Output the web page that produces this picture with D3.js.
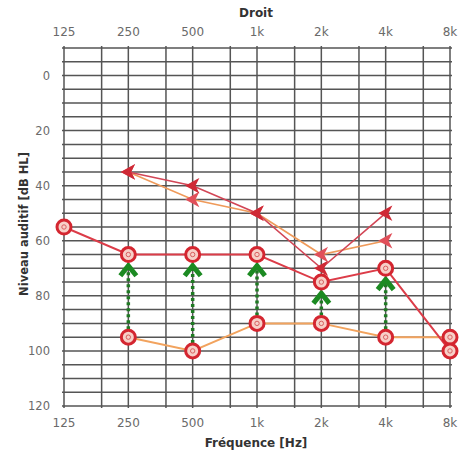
<!DOCTYPE html>
<html>
<head>
<meta charset="utf-8">
<script src="https://cdn.jsdelivr.net/npm/d3@7/dist/d3.min.js"></script>
<style>
  html, body { margin: 0; padding: 0; background: #fff; }
  svg { display: block; }
  text { font-family: "DejaVu Sans", Verdana, sans-serif; }
</style>
</head>
<body>
<svg id="chart" width="462" height="454"></svg>
<script>
// Audiogram, right ear (Droit)
const freqs = [125, 250, 500, 1000, 2000, 4000, 8000];
const freqLabels = ["125", "250", "500", "1k", "2k", "4k", "8k"];
const halfOctaves = [187.5, 375, 750, 1500, 3000, 6000];
const dbTicks = [0, 20, 40, 60, 80, 100, 120];

// Free-field thresholds, aided (circles, red line)
const aidedFreq = [125, 250, 500, 1000, 2000, 4000, 8000];
const aidedDb   = [55, 65, 65, 65, 75, 70, 100];

// Free-field thresholds, unaided (circles, orange line)
const unaidedFreq = [250, 500, 1000, 2000, 4000, 8000];
const unaidedDb   = [95, 100, 90, 90, 95, 95];

// Thresholds shown with "<" markers
const markAFreq = [250, 500, 1000, 2000, 4000];
const markADb   = [35, 40, 50, 70, 50];
const markBFreq = [250, 500, 1000, 2000, 4000];
const markBDb   = [35, 45, 50, 65, 60];

// Gain arrows: from unaided level up to the arrow tip
const gainFreq = [250, 500, 1000, 2000, 4000];
const gainFrom = [95, 100, 90, 90, 95];
const gainTo   = [68, 68, 68, 78, 73];

const svg = d3.select("#chart");

const x = d3.scaleLog().base(2).domain([125, 8000]).range([64, 450]);
const y = d3.scaleLinear().domain([-10, 120]).range([48, 406]);

// Grid
const grid = svg.append("g").attr("stroke", "#555").attr("stroke-width", 1.5);
grid.selectAll("line.h").data(d3.range(-10, 121, 5)).join("line")
  .attr("x1", x(125) - 2).attr("x2", x(8000) + 2)
  .attr("y1", d => y(d)).attr("y2", d => y(d));
grid.selectAll("line.v").data(freqs.concat(halfOctaves)).join("line")
  .attr("x1", d => x(d)).attr("x2", d => x(d))
  .attr("y1", y(-10) - 2).attr("y2", y(120) + 2);

// Axis labels
const labelColor = "#6a6a6a";
svg.append("g").selectAll("text").data(freqs).join("text")
  .attr("x", d => x(d)).attr("y", 36)
  .attr("text-anchor", "middle").attr("font-size", 12).attr("fill", labelColor)
  .text((d, i) => freqLabels[i]);
svg.append("g").selectAll("text").data(freqs).join("text")
  .attr("x", d => x(d)).attr("y", 427)
  .attr("text-anchor", "middle").attr("font-size", 12).attr("fill", labelColor)
  .text((d, i) => freqLabels[i]);
svg.append("g").selectAll("text").data(dbTicks).join("text")
  .attr("x", 50).attr("y", d => y(d) + 4)
  .attr("text-anchor", "end").attr("font-size", 11.5).attr("fill", labelColor)
  .text(d => d);

svg.append("text").attr("x", 256).attr("y", 17)
  .attr("text-anchor", "middle").attr("font-size", 12).attr("font-weight", "bold")
  .attr("fill", "#333").text("Droit");
svg.append("text").attr("x", 256).attr("y", 447)
  .attr("text-anchor", "middle").attr("font-size", 12).attr("font-weight", "bold")
  .attr("fill", "#333").text("Fréquence [Hz]");
svg.append("text")
  .attr("transform", "translate(28,224) rotate(-90)")
  .attr("text-anchor", "middle").attr("font-size", 11.5).attr("font-weight", "bold")
  .attr("fill", "#333").text("Niveau auditif [dB HL]");

const line = d3.line().x(d => x(d[0])).y(d => y(d[1]));
const zip = (a, b) => a.map((v, i) => [v, b[i]]);

// Connecting lines
svg.append("path").datum(zip(markBFreq, markBDb)).attr("d", line)
  .attr("fill", "none").attr("stroke", "#ef9a5a").attr("stroke-width", 1.6);
svg.append("path").datum(zip(markAFreq, markADb)).attr("d", line)
  .attr("fill", "none").attr("stroke", "#d24656").attr("stroke-width", 1.6);
svg.append("path").datum(zip(unaidedFreq, unaidedDb)).attr("d", line)
  .attr("fill", "none").attr("stroke", "#f2a35e").attr("stroke-width", 2);
svg.append("path").datum(zip(aidedFreq, aidedDb)).attr("d", line)
  .attr("fill", "none").attr("stroke", "#dc3c48").attr("stroke-width", 2);

// Gain arrows (green dotted shaft with chevron head)
const arrows = svg.append("g");
gainFreq.forEach((f, i) => {
  const cx = x(f), y0 = y(gainFrom[i]) - 8, y1 = y(gainTo[i]);
  arrows.append("line")
    .attr("x1", cx).attr("x2", cx).attr("y1", y0).attr("y2", y1 + 6)
    .attr("stroke", "#1f7a23").attr("stroke-width", 3.5)
    .attr("stroke-dasharray", "3,3");
  arrows.append("path")
    .attr("d", `M${cx - 8},${y1 + 13} L${cx},${y1 + 3} L${cx + 8},${y1 + 13}`)
    .attr("fill", "none").attr("stroke", "#1c8a22").attr("stroke-width", 5)
    .attr("stroke-linejoin", "miter");
});

// "<" markers
function chevrons(fs, dbs, color) {
  svg.append("g").selectAll("path").data(zip(fs, dbs)).join("path")
    .attr("d", d => {
      const cx = x(d[0]), cy = y(d[1]);
      return `M${cx + 5},${cy - 6} L${cx - 6},${cy} L${cx + 5},${cy + 6} L${cx + 2},${cy} Z`;
    })
    .attr("fill", color).attr("stroke", color).attr("stroke-width", 1.5)
    .attr("stroke-linejoin", "miter");
}
chevrons(markBFreq, markBDb, "#e0505a");
chevrons(markAFreq, markADb, "#cf2a36");

// Circle markers
function circles(fs, dbs) {
  const g = svg.append("g").selectAll("g").data(zip(fs, dbs)).join("g")
    .attr("transform", d => `translate(${x(d[0])},${y(d[1])})`);
  g.append("circle").attr("r", 7).attr("fill", "#f7d0c8")
    .attr("stroke", "#d42630").attr("stroke-width", 3);
  g.append("circle").attr("r", 2.2).attr("fill", "none")
    .attr("stroke", "#d86060").attr("stroke-width", 1);
}
circles(unaidedFreq, unaidedDb);
circles(aidedFreq, aidedDb);
</script>
</body>
</html>
